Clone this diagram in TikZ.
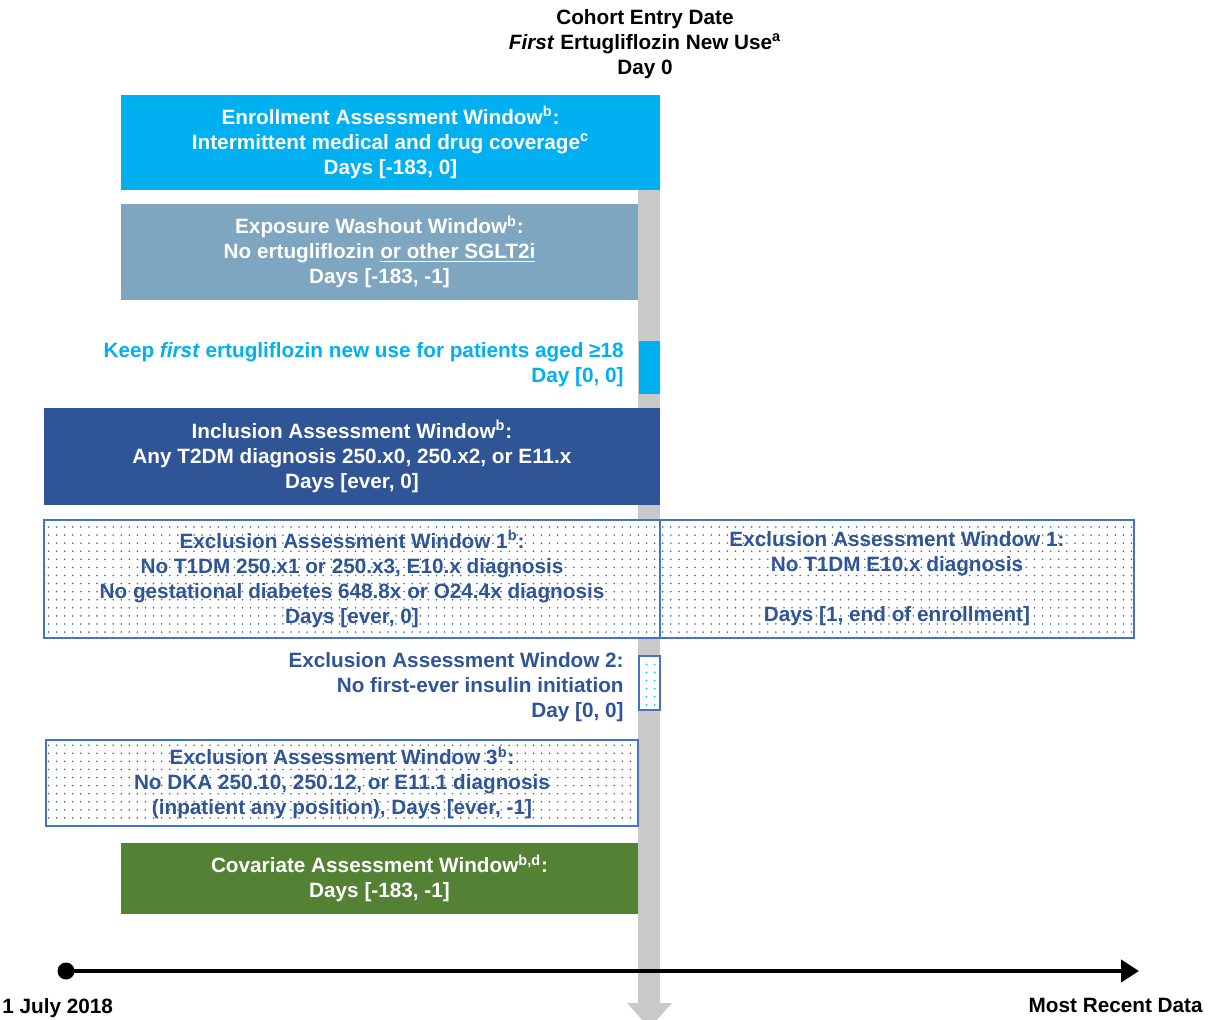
\documentclass[tikz,border=0pt]{standalone}
\usepackage{fontspec}
\setmainfont{Liberation Sans}
\usetikzlibrary{arrows.meta,patterns.meta}
\definecolor{enrollc}{HTML}{00B0F0}
\definecolor{exposc}{HTML}{7EA6C0}
\definecolor{inclc}{HTML}{2F5597}
\definecolor{exclbd}{HTML}{4472C4}
\definecolor{covc}{HTML}{548235}
\definecolor{barc}{HTML}{C9C9C9}
\tikzset{
  txt/.style={font=\fontsize{11.8}{14.2}\selectfont\bfseries, inner sep=0pt},
  solidbox/.style={txt, draw=none, align=center, text=white},
  dotpat/.style={preaction={fill=white}, pattern={Dots[distance=4.6pt,radius=0.5pt]}, pattern color=#1},
  dotbox/.style={txt, draw=exclbd, line width=0.8pt, align=center, text=inclc, dotpat=exclbd!85!black},
}
\begin{document}
\begin{tikzpicture}[x=0.02cm,y=-0.02cm]
\useasboundingbox (0,0) rectangle (1210,1020);
% vertical gray bar with arrow
\fill[barc] (638,190) rectangle (660,1003);
\fill[barc] (627,1003) -- (672,1003) -- (649.5,1028) -- cycle;
% header
\node[txt, align=center] (hdr) at (645,44) {Cohort Entry Date\\\textit{First} Ertugliflozin New Use\textsuperscript{a}\\Day 0};
% enrollment
\node[solidbox, fill=enrollc, minimum width=10.78cm, minimum height=1.9cm] (enroll) at (390.5,142.5)
  {Enrollment Assessment Window\textsuperscript{b}:\\Intermittent medical and drug coverage\textsuperscript{c}\\Days [-183, 0]};
% exposure washout
\node[solidbox, fill=exposc, minimum width=10.34cm, minimum height=1.92cm] (expo) at (379.5,252)
  {Exposure Washout Window\textsuperscript{b}:\\No ertugliflozin \underline{or other SGLT2i}\\Days [-183, -1]};
% keep
\node[txt, anchor=east, align=right, text=enrollc] (keep) at (624,364.5)
  {Keep \textit{first} ertugliflozin new use for patients aged ≥18\\Day [0, 0]};
\node[fill=enrollc, inner sep=0pt, minimum width=0.42cm, minimum height=1.06cm] (keepbar) at (649.5,367.5) {};
% inclusion
\node[solidbox, fill=inclc, minimum width=12.32cm, minimum height=1.94cm] (incl) at (352,456.5)
  {Inclusion Assessment Window\textsuperscript{b}:\\Any T2DM diagnosis 250.x0, 250.x2, or E11.x\\Days [ever, 0]};
% exclusion 1
\node[dotbox, minimum width=12.32cm, minimum height=2.36cm] (ex1a) at (352,579)
  {Exclusion Assessment Window 1\textsuperscript{b}:\\No T1DM 250.x1 or 250.x3, E10.x diagnosis\\No gestational diabetes 648.8x or O24.4x diagnosis\\Days [ever, 0]};
\node[dotbox, minimum width=9.48cm, minimum height=2.36cm] (ex1b) at (897,579)
  {Exclusion Assessment Window 1:\\No T1DM E10.x diagnosis\\\strut\\Days [1, end of enrollment]};
% exclusion 2
\node[txt, anchor=east, align=right, text=inclc] (ex2) at (624,687.5)
  {Exclusion Assessment Window 2:\\No first-ever insulin initiation\\Day [0, 0]};
\node[draw=exclbd, line width=0.8pt, inner sep=0pt, minimum width=0.42cm, minimum height=1.08cm,
  dotpat=enrollc] (ex2bar) at (649.5,683) {};
% exclusion 3
\node[dotbox, minimum width=11.84cm, minimum height=1.72cm] (ex3) at (342,783)
  {Exclusion Assessment Window 3\textsuperscript{b}:\\No DKA 250.10, 250.12, or E11.1 diagnosis\\(inpatient any position), Days [ever, -1]};
% covariate
\node[solidbox, fill=covc, minimum width=10.34cm, minimum height=1.42cm] (cov) at (379.5,878.5)
  {Covariate Assessment Window\textsuperscript{b,d}:\\Days [-183, -1]};
% timeline
\node[circle, fill=black, inner sep=0pt, minimum size=0.34cm] (t0) at (66,971) {};
\coordinate (t1) at (1139,971);
\draw[line width=2.3pt, -{Triangle[length=0.36cm,width=0.44cm]}] (t0.center) -- (t1);
\node[txt, anchor=west] (start) at (2,1008) {1 July 2018};
\node[txt, anchor=east] (end) at (1203,1005) {Most Recent Data};
\end{tikzpicture}
\end{document}
